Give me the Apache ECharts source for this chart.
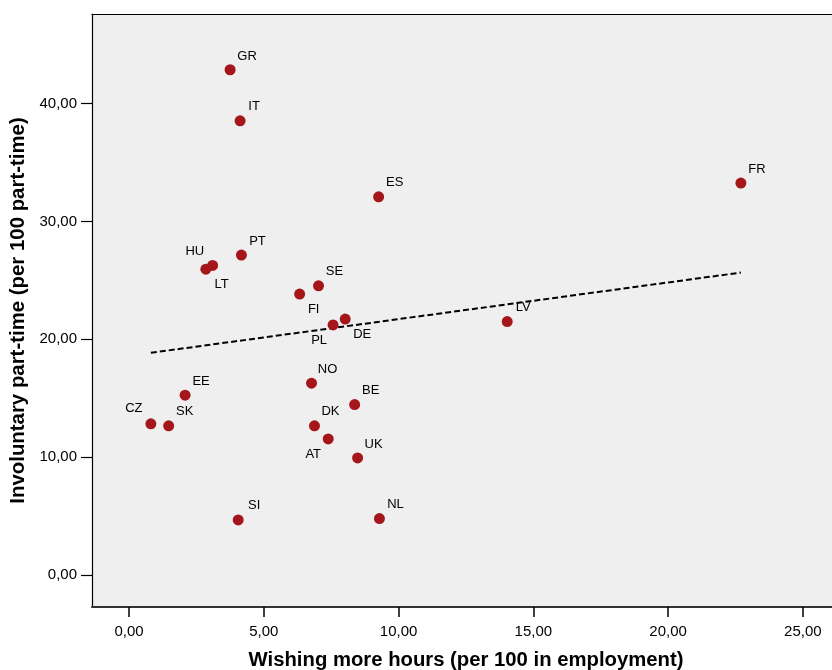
<!DOCTYPE html>
<html>
<head>
<meta charset="utf-8">
<script src="https://cdn.jsdelivr.net/npm/echarts@6/dist/echarts.min.js"></script>
<style>
  html, body { margin: 0; padding: 0; background: #ffffff; }
  #chart { width: 832px; height: 670px; }
</style>
</head>
<body>
<div id="chart"></div>
<script>
// Country codes and their two measures
const countries = ['GR', 'IT', 'ES', 'PT', 'HU', 'LT', 'SE', 'FI', 'DE', 'PL', 'NO', 'EE',
                   'BE', 'CZ', 'SK', 'DK', 'AT', 'UK', 'SI', 'NL', 'LV', 'FR'];
// Wishing more hours (per 100 in employment)
const wishingMoreHours = [3.75, 4.12, 9.26, 4.17, 2.85, 3.10, 7.03, 6.33, 8.02, 7.57, 6.77, 2.08,
                          8.37, 0.81, 1.47, 6.88, 7.39, 8.48, 4.05, 9.29, 14.03, 22.70];
// Involuntary part-time (per 100 part-time)
const involuntaryPartTime = [42.87, 38.54, 32.09, 27.14, 25.95, 26.26, 24.53, 23.83, 21.71, 21.22, 16.27, 15.25,
                             14.46, 12.82, 12.65, 12.65, 11.54, 9.93, 4.67, 4.78, 21.50, 33.25];
// Linear fit line, drawn across the observed x range
const fitLine = [[0.81, 18.85], [22.70, 25.66]];
// Tick values
const xTicks = [0, 5, 10, 15, 20, 25];
const yTicks = [0, 10, 20, 30, 40];

// Label placement (offset from the marker centre), default is upper right
const defaultLabelOffset = [16, -14];
const labelOffsets = {
  HU: [-11, -18], LT: [9, 19], FI: [14, 15], DE: [17, 15],
  PL: [-14, 16], CZ: [-17, -15], AT: [-15, 15], GR: [17, -13], IT: [14, -14]
};

const fmt = v => v.toFixed(2).replace('.', ',');

const points = countries.map((c, i) => ({
  name: c,
  value: [wishingMoreHours[i], involuntaryPartTime[i]],
  label: { offset: labelOffsets[c] || defaultLabelOffset }
}));

const font = 'Liberation Sans, Arial, sans-serif';
const chart = echarts.init(document.getElementById('chart'), null, { renderer: 'canvas' });

chart.setOption({
  animation: false,
  backgroundColor: '#ffffff',
  grid: {
    left: 92, right: 0, top: 14, bottom: 63,
    outerBoundsMode: 'none',
    containLabel: false,
    show: true, backgroundColor: '#efefef', borderWidth: 0
  },
  xAxis: [{
    type: 'value',
    min: -1.374, max: 26.08,
    name: 'Wishing more hours (per 100 in employment)',
    nameLocation: 'middle',
    nameGap: 43,
    nameTextStyle: { fontFamily: font, fontSize: 20.3, fontWeight: 'bold', color: '#000', padding: [0, 0, 0, 8] },
    axisLine: { show: true, onZero: false, lineStyle: { color: '#333', width: 2 } },
    axisTick: { show: true, length: 10, customValues: xTicks, lineStyle: { color: '#000', width: 1.5 } },
    axisLabel: { customValues: xTicks, formatter: fmt, fontFamily: font, fontSize: 15, color: '#000', margin: 17 },
    splitLine: { show: false }
  }, {
    // top frame line
    type: 'value',
    position: 'top',
    min: -1.374, max: 26.08,
    axisLine: { show: true, onZero: false, lineStyle: { color: '#000', width: 1.2 } },
    axisTick: { show: false },
    axisLabel: { show: false },
    splitLine: { show: false }
  }],
  yAxis: {
    type: 'value',
    min: -2.72, max: 47.6,
    name: 'Involuntary part-time (per 100 part-time)',
    nameLocation: 'middle',
    nameGap: 62,
    nameTextStyle: { fontFamily: font, fontSize: 20.4, fontWeight: 'bold', color: '#000' },
    axisLine: { show: true, onZero: false, lineStyle: { color: '#000', width: 1.2 } },
    axisTick: { show: true, length: 11, customValues: yTicks, lineStyle: { color: '#000', width: 1.2 } },
    axisLabel: { customValues: yTicks, formatter: fmt, fontFamily: font, fontSize: 15, color: '#000', margin: 15 },
    splitLine: { show: false }
  },
  series: [{
    type: 'line',
    data: fitLine,
    showSymbol: false,
    symbol: 'none',
    silent: true,
    lineStyle: { color: '#000', width: 2, type: [6, 3] },
    z: 1
  }, {
    type: 'scatter',
    data: points,
    symbol: 'circle',
    symbolSize: 11,
    itemStyle: { color: '#a5161a', opacity: 1 },
    label: {
      show: true,
      position: 'inside',
      formatter: p => p.name,
      fontFamily: font,
      fontSize: 13,
      color: '#000'
    },
    z: 2
  }]
});
</script>
</body>
</html>
